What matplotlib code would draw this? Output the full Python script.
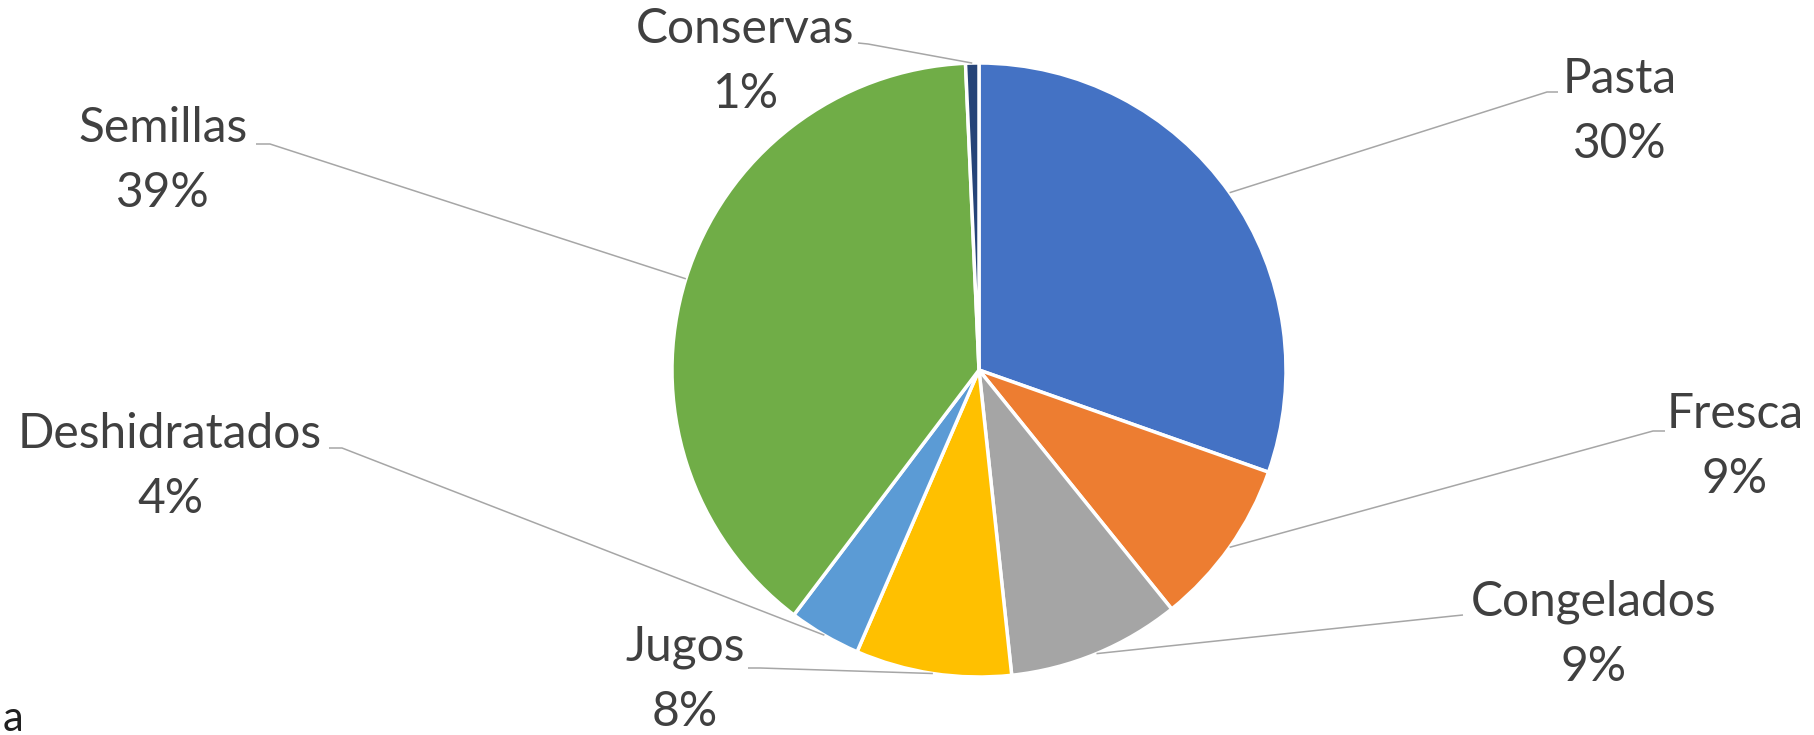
import numpy as np
import matplotlib
matplotlib.use("Agg")
import matplotlib.pyplot as plt

# data
categories = ["Pasta", "Fresca", "Congelados", "Jugos", "Deshidratados", "Semillas", "Conservas"]
shares = [30.4, 8.8, 9.1, 8.2, 3.8, 39.0, 0.7]
colors = ["#4472C4", "#ED7D31", "#A5A5A5", "#FFC000", "#5B9BD5", "#70AD47", "#264478"]

# layout (pixel coords, y measured from the top)
W, H = 1814, 735
cx, cy, R = 979, 370, 307
label_pos = {
    "Pasta": (1620, 79),
    "Fresca": (1735, 414),
    "Congelados": (1594, 602),
    "Jugos": (685, 647),
    "Deshidratados": (170, 434),
    "Semillas": (163, 128),
    "Conservas": (745, 29),
}
# elbow of leader line and end of the short horizontal stub
leader = {
    "Pasta": ((1547, 92), (1558, 92)),
    "Fresca": ((1653, 431), (1665, 431)),
    "Congelados": ((1453, 616), (1463, 615)),
    "Jugos": ((760, 668), (748, 668)),
    "Deshidratados": ((342, 448), (329, 448)),
    "Semillas": ((270, 144), (256, 144)),
    "Conservas": ((868, 44), (858, 43)),
}

text_col = "#404040"
line_col = "#A6A6A6"
plt.rcParams['font.family'] = ['Lato', 'DejaVu Sans']


def fy(y):
    return H - y


fig = plt.figure(figsize=(W / 100, H / 100), dpi=100)
ax = fig.add_axes([0, 0, 1, 1])
ax.pie(shares, colors=colors, startangle=90, counterclock=False,
       center=(cx, fy(cy)), radius=R,
       wedgeprops=dict(edgecolor="white", linewidth=2.5))
ax.set_xlim(0, W)
ax.set_ylim(0, H)
ax.set_aspect("equal")
ax.axis("off")

# labels and leader lines
cum = np.cumsum([0] + shares)
for i, name in enumerate(categories):
    mid = (cum[i] + cum[i + 1]) / 2 / 100 * 2 * np.pi
    ex = cx + R * np.sin(mid)
    ey = cy - R * np.cos(mid)
    (bx, by), (sx, sy) = leader[name]
    ax.plot([ex, bx, sx], [fy(ey), fy(by), fy(sy)], color=line_col, lw=1.1,
            solid_capstyle="butt")
    lx, ly = label_pos[name]
    ax.text(lx, fy(ly), name, ha="center", va="center", fontsize=34.5, color=text_col)
    ax.text(lx, fy(ly + 65), f"{round(shares[i])}%", ha="center", va="center",
            fontsize=34.5, color=text_col)

# stray character at the bottom-left corner
ax.text(3, fy(731), "a", ha="left", va="baseline", fontsize=30, color="#202020")

fig.savefig("out.png", dpi=100)
